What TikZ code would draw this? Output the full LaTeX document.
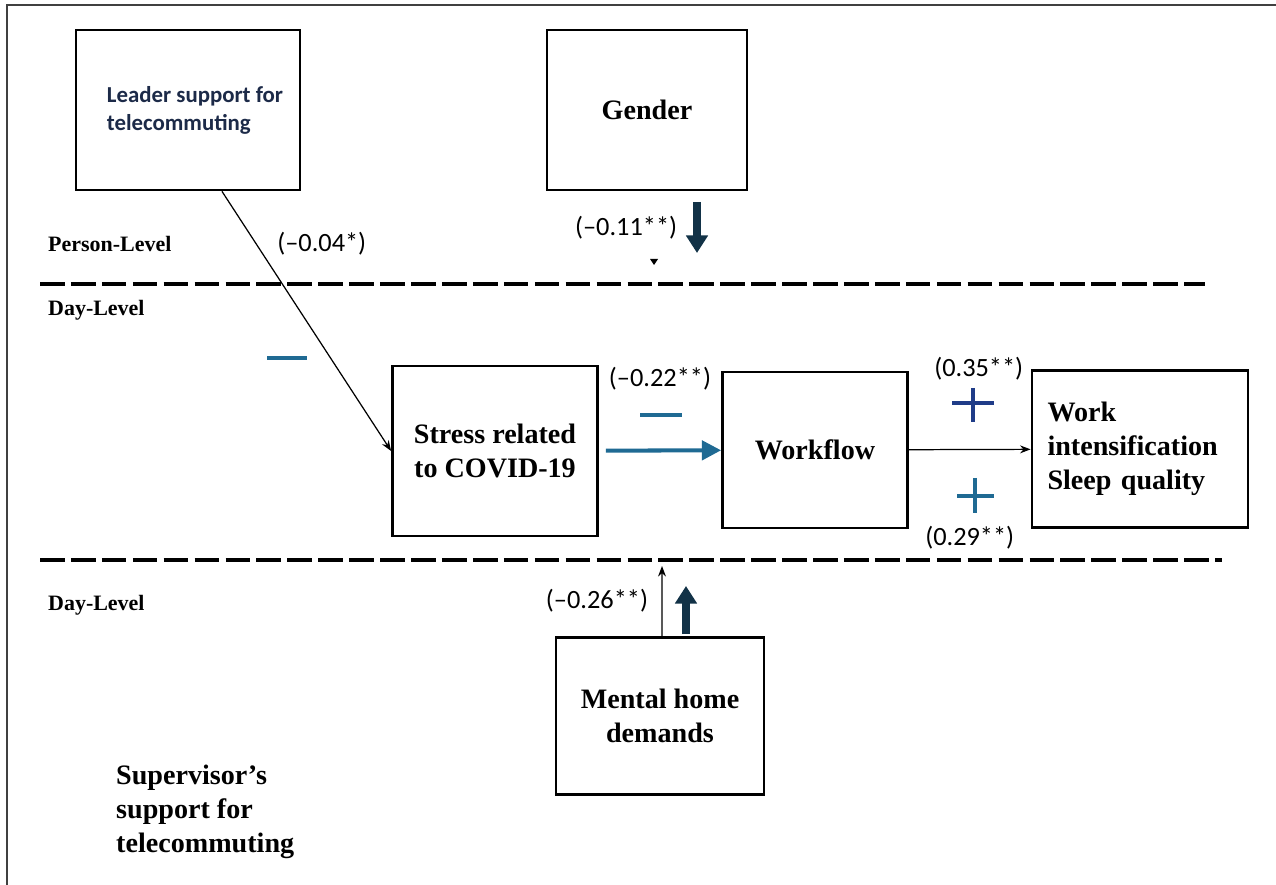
\documentclass[tikz,border=0pt]{standalone}
\usepackage{fontspec}
\setmainfont{Liberation Serif}
\newfontfamily\coeffont{Carlito}
\usepackage{xcolor}
\usepackage{tikz}
\usetikzlibrary{arrows.meta}

\definecolor{pathblue}{HTML}{1F6A93}
\definecolor{plusnavy}{HTML}{1F3C88}
\definecolor{fatnavy}{HTML}{123247}
\definecolor{leadnavy}{HTML}{1C2A48}

\tikzset{
  varbox/.style={draw, rectangle, line width=1.6pt, align=center, font=\fontsize{16}{19.3}\selectfont\bfseries},
  levellabel/.style={anchor=west, font=\fontsize{12.5}{15}\selectfont\bfseries},
  coef/.style={font=\coeffont\fontsize{15}{18}\selectfont, text=black},
  levelline/.style={line width=2.2pt, dash pattern=on 14pt off 3.6pt},
  thinarrow/.style={-{Stealth[length=6pt, width=4.5pt]}, line width=0.7pt},
  fatarrow/.style={fatnavy, line width=4.5pt, -{Triangle[length=10pt, width=12pt]}},
  signbar/.style={line width=2.8pt},
}

\begin{document}
\begin{tikzpicture}[x=0.02cm, y=-0.02cm]
\useasboundingbox (0,0) rectangle (1276,885);
\draw[line width=1.1pt, black!75] (7,885) -- (7,5) -- (1276,5);

% Nodes
\node[varbox, minimum width=4.48cm, minimum height=3.2cm, align=left,
      font=\coeffont\fontsize{13}{16}\selectfont\bfseries, text=leadnavy] (leader) at (188,110)
      {\hspace*{0.28cm}Leader support for\\\hspace*{0.28cm}telecommuting};
\node[varbox, minimum width=4.0cm, minimum height=3.2cm] (gender) at (647,110) {Gender};
\node[varbox, minimum width=4.1cm, minimum height=3.4cm] (stress) at (495,451) {Stress related\\to COVID-19};
\node[varbox, minimum width=3.7cm, minimum height=3.12cm] (workflow) at (815,450) {Workflow};
\node[varbox, minimum width=4.32cm, minimum height=3.14cm, text width=3.7cm, align=left] (outcome) at (1140,449)
      {Work\\intensification\\Sleep quality};
\node[varbox, minimum width=4.16cm, minimum height=3.14cm] (mental) at (660,716) {Mental home\\demands};
\node[anchor=west, align=left, font=\fontsize{16}{19.3}\selectfont\bfseries] (supervisor) at (110,812)
      {Supervisor’s\\support for\\telecommuting};

% Levels
\node[levellabel] (person) at (42,244) {Person-Level};
\node[levellabel] (dayup) at (42,310) {Day-Level};
\node[levellabel] (daylow) at (42,605) {Day-Level};
\draw[levelline] (40,284) -- (1205,284);
\draw[levelline] (40,560) -- (1222,560);

% Arrows
\draw[thinarrow] ([xshift=0.68cm]leader.south) -- (stress.west)
  node[coef, pos=0.2, right=0.3cm] (c04) {(–0.04*)};
\draw[pathblue, line width=2.3pt, shorten <=4pt, -{Triangle[length=11pt, width=11pt]}] (stress) -- (workflow)
  node[coef, midway, above=1.05cm] (c22) {(–0.22**)};
\draw[thinarrow] (workflow) -- (outcome)
  node[coef, midway, above=1.26cm, xshift=0.18cm] (c35) {(0.35**)}
  node[coef, midway, below=1.4cm] (c29) {(0.29**)};

\coordinate (gtail) at (697,202);
\coordinate (ghead) at (697,253);
\draw[fatarrow] (gtail) -- (ghead) node[coef, midway, left=0.2cm] (c11) {(–0.11**)};
\fill (650,259) -- (658,259) -- (654,265) -- cycle;

\coordinate (mtip) at (662,566);
\draw[thinarrow] ([xshift=0.04cm]mental.north) -- (mtip) node[coef, midway, left=0.15cm] (c26) {(–0.26**)};
\coordinate (mtail) at (686,634);
\coordinate (mhead) at (686,586);
\draw[fatarrow] (mtail) -- (mhead);

% Signs
\draw[signbar, pathblue] (267,358) -- (307,358);
\draw[signbar, pathblue] (640,415) -- (682,415);
\draw[signbar, plusnavy] (952,403) -- (994,403) (973,388) -- (973,422);
\draw[signbar, pathblue] (957,496) -- (994,496) (975,478) -- (975,513);

\end{tikzpicture}
\end{document}
